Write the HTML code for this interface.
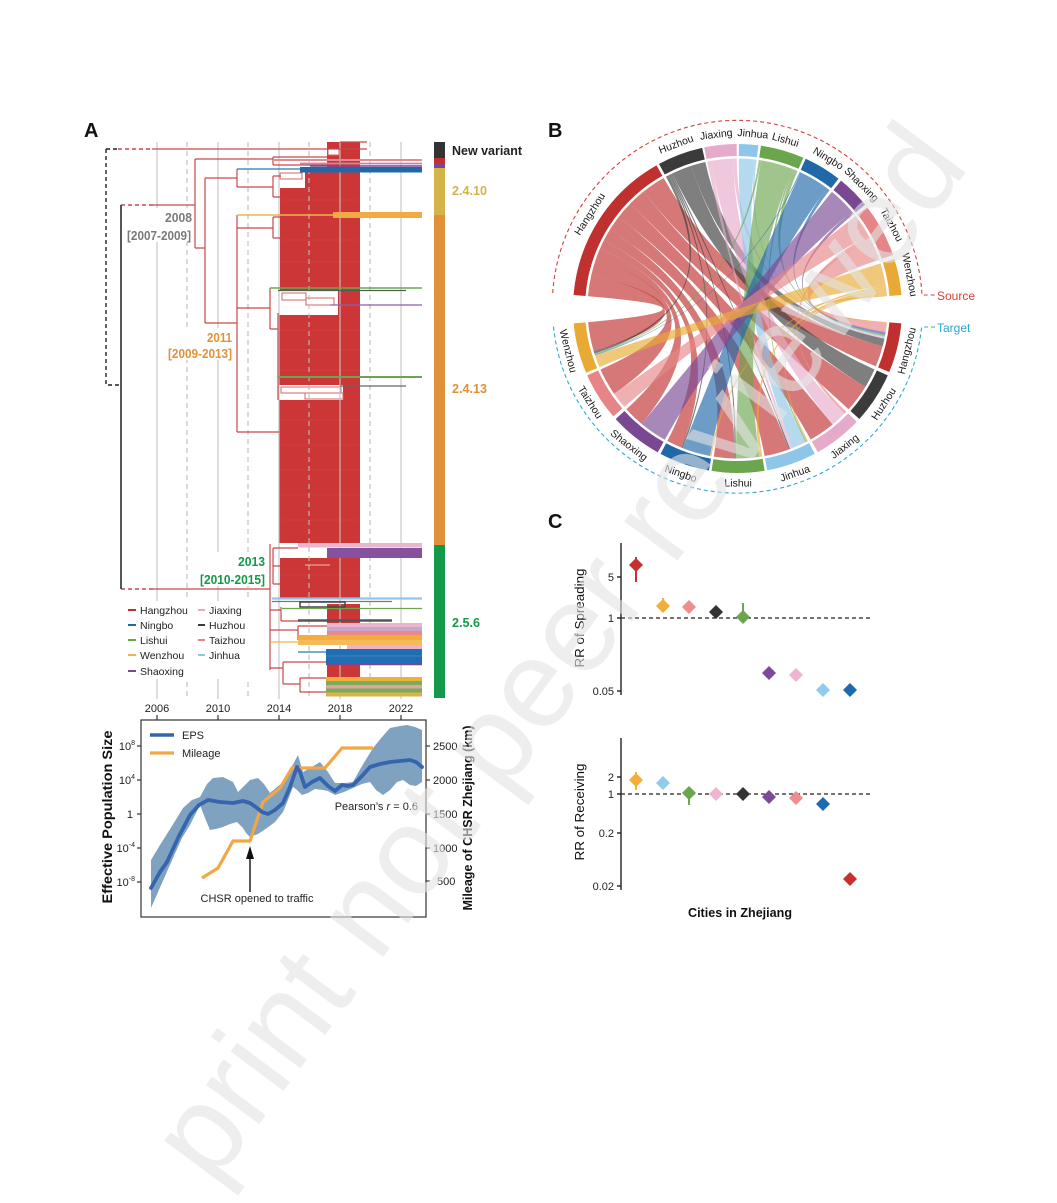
<!DOCTYPE html>
<html><head><meta charset="utf-8"><style>
html,body{margin:0;padding:0;background:#fff;overflow:hidden;width:1057px;height:1203px;}
#wrap{position:relative;width:1057px;height:1203px;overflow:hidden;}
svg{display:block;font-family:"Liberation Sans",Arial,sans-serif;}
</style></head><body><div id="wrap">
<svg id="root" xmlns="http://www.w3.org/2000/svg" width="1057" height="1203" viewBox="0 0 1057 1203" overflow="hidden">
<defs><clipPath id="frame"><rect x="0" y="0" width="1057" height="1203"/></clipPath></defs>
<rect x="0" y="0" width="1057" height="1203" fill="#fff"/>

<!-- ================= PANEL A: tree ================= -->
<text x="84" y="137" font-size="20" font-weight="bold" fill="#111">A</text>

<g fill="#CD3637">
<rect x="327" y="142" width="33" height="31"/>
<rect x="305" y="172" width="55" height="17"/>
<rect x="280" y="188" width="80" height="102"/>
<rect x="338" y="290" width="22" height="25"/>
<rect x="279" y="315" width="81" height="70"/>
<rect x="343" y="385" width="17" height="15"/>
<rect x="279" y="400" width="81" height="143"/>
<rect x="280" y="558" width="80" height="40"/>
<rect x="327" y="604" width="33" height="20"/>
<rect x="327" y="662" width="33" height="16"/>
</g>
<g stroke="#e06a6a" stroke-width="0.6" opacity="0.35">
<line x1="282" y1="200" x2="358" y2="200"/><line x1="282" y1="215" x2="358" y2="215"/><line x1="282" y1="240" x2="358" y2="240"/><line x1="282" y1="262" x2="358" y2="262"/><line x1="282" y1="330" x2="358" y2="330"/><line x1="282" y1="350" x2="358" y2="350"/><line x1="282" y1="370" x2="358" y2="370"/><line x1="282" y1="420" x2="358" y2="420"/><line x1="282" y1="445" x2="358" y2="445"/><line x1="282" y1="470" x2="358" y2="470"/><line x1="282" y1="495" x2="358" y2="495"/><line x1="282" y1="520" x2="358" y2="520"/><line x1="282" y1="575" x2="358" y2="575"/>
</g>
<g fill="#fff" stroke="#D56565" stroke-width="1">
<rect x="328" y="149" width="11" height="6"/>
<rect x="280" y="173" width="22" height="6"/>
<rect x="282" y="293" width="24" height="7"/>
<rect x="306" y="298" width="28" height="7"/>
<rect x="281" y="387" width="60" height="6"/>
<rect x="305" y="393" width="38" height="6"/>
</g>

<g stroke="#c4c4c4" stroke-width="1.3" opacity="0.85">
<line x1="157" y1="142" x2="157" y2="699"/>
<line x1="218" y1="142" x2="218" y2="699"/>
<line x1="279" y1="142" x2="279" y2="699"/>
<line x1="340" y1="142" x2="340" y2="699"/>
<line x1="401" y1="142" x2="401" y2="699"/>
</g>
<g stroke="#bdbdbd" stroke-width="1.3" stroke-dasharray="5,4" opacity="0.85">
<line x1="187" y1="142" x2="187" y2="699"/>
<line x1="248" y1="142" x2="248" y2="699"/>
<line x1="309" y1="142" x2="309" y2="699"/>
<line x1="370" y1="142" x2="370" y2="699"/>
</g>

<g fill="none" stroke-width="1.4">
<path d="M106,149 V385 H121" stroke="#222" stroke-dasharray="4,3"/>
<line x1="106" y1="149" x2="118" y2="149" stroke="#222" stroke-dasharray="4,3"/>
<line x1="118" y1="149" x2="152" y2="149" stroke="#C9474A" stroke-dasharray="4,3"/>
<line x1="121" y1="205" x2="153" y2="205" stroke="#C9474A" stroke-dasharray="4,3"/>
<line x1="121" y1="589" x2="153" y2="589" stroke="#C9474A" stroke-dasharray="4,3"/>
<line x1="121" y1="205" x2="121" y2="589" stroke="#444" stroke-width="1.8"/>
</g>

<g fill="none" stroke="#C9474A" stroke-width="1.2">
<line x1="152" y1="149" x2="367" y2="149"/>
<line x1="340" y1="142" x2="367" y2="142"/>
<line x1="153" y1="205" x2="195" y2="205"/>
<path d="M195,159 V248"/>
<path d="M195,159 H273 M273,157 V165 M273,157 H327 M273,165 H327"/>
<path d="M195,248 H205 M205,178 V323"/>
<path d="M205,178 H237 M237,169 V187 M237,187 H273 M273,176 V197 M273,176 H281 M273,197 H281"/>
<path d="M205,323 H237 M237,215 V432"/>
<path d="M237,228 H273 M273,217 V238 M273,217 H281 M273,238 H281"/>
<path d="M237,308 H270 M270,288 V329 M270,329 H278 M278,313 V400"/>
<path d="M237,432 H279"/>
<path d="M153,589 H270 M270,544 V670"/>
<path d="M273,548 V584 M273,566 H280 M273,548 H298 M273,584 H280"/>
<path d="M281,607 V621 M281,621 H300 M270,610 H281"/>
<path d="M270,630 H298 M298,626 V640 M298,626 H327 M298,640 H327"/>
<path d="M270,668 H283 M283,662 V684 M283,662 H327 M283,684 H300 M300,678 V692 M300,678 H327 M300,692 H327"/>
<line x1="305" y1="565" x2="330" y2="565" stroke="#f0a0a0"/>
</g>

<g stroke-linecap="butt">
<line x1="273" y1="160" x2="422" y2="160" stroke="#E68A8C" stroke-width="2"/>
<line x1="300" y1="163.5" x2="422" y2="163.5" stroke="#B28BB8" stroke-width="1.8"/>
<line x1="310" y1="166" x2="422" y2="166" stroke="#7A4793" stroke-width="1.6"/>
<line x1="237" y1="169" x2="300" y2="169" stroke="#2E75B6" stroke-width="1.3"/>
<rect x="300" y="167" width="122" height="5.5" fill="#1F69A8"/>
<line x1="237" y1="215" x2="333" y2="215" stroke="#F2B24F" stroke-width="1.6"/>
<rect x="333" y="212" width="89" height="6" fill="#F2AA45"/>
<line x1="270" y1="288" x2="422" y2="288" stroke="#6BA54E" stroke-width="1.6"/>
<line x1="278" y1="290.5" x2="406" y2="290.5" stroke="#4C5F4E" stroke-width="1.3"/>
<line x1="330" y1="305" x2="422" y2="305" stroke="#8B5FA5" stroke-width="1.3"/>
<line x1="278" y1="377" x2="422" y2="377" stroke="#6BA54E" stroke-width="2"/>
<line x1="340" y1="386" x2="406" y2="386" stroke="#666" stroke-width="1.3"/>
<rect x="298" y="543" width="124" height="4.5" fill="#E9B6D0"/>
<rect x="327" y="548" width="95" height="10" fill="#8652A0"/>
<line x1="272" y1="598.5" x2="422" y2="598.5" stroke="#8DC6E8" stroke-width="2.2"/>
<line x1="272" y1="601.5" x2="392" y2="601.5" stroke="#777" stroke-width="1.2"/>
<rect x="300" y="602" width="45" height="5" fill="none" stroke="#444" stroke-width="1.5"/>
<line x1="282" y1="608.5" x2="422" y2="608.5" stroke="#6BA54E" stroke-width="1.3"/>
<line x1="298" y1="620.5" x2="392" y2="620.5" stroke="#555" stroke-width="2.6"/>
<rect x="327" y="623" width="95" height="4" fill="#E9B6D0"/>
<rect x="327" y="627" width="95" height="4" fill="#C9A7C8"/>
<rect x="327" y="631" width="95" height="4" fill="#E68A8C"/>
<line x1="270" y1="642" x2="298" y2="642" stroke="#F2B24F" stroke-width="1.3"/>
<rect x="298" y="635" width="124" height="5" fill="#F6AC3C"/>
<rect x="298" y="640" width="124" height="5" fill="#F4BB5A"/>
<rect x="347" y="645" width="75" height="4" fill="#EDB1CB"/>
<line x1="298" y1="652" x2="326" y2="652" stroke="#2E75B6" stroke-width="1.3"/>
<rect x="326" y="649" width="96" height="15" fill="#1F6DB2"/>
<line x1="326" y1="656" x2="422" y2="656" stroke="#5A8CC8" stroke-width="0.8"/>
<line x1="326" y1="664.5" x2="422" y2="664.5" stroke="#7A4793" stroke-width="1.5"/>
<rect x="326" y="677" width="96" height="4" fill="#F2AE3A"/>
<rect x="326" y="681" width="96" height="4" fill="#78AE5A"/>
<rect x="326" y="685" width="96" height="3.5" fill="#E8A0A0"/>
<rect x="326" y="688.5" width="96" height="4" fill="#78AE5A"/>
<rect x="326" y="692.5" width="96" height="4" fill="#D9B24A"/>
</g>

<rect x="434" y="142" width="11" height="16" fill="#333"/>
<rect x="434" y="158" width="11" height="5" fill="#C0302F"/>
<rect x="434" y="163" width="11" height="5" fill="#7A4793"/>
<rect x="434" y="168" width="11" height="47" fill="#D4B44A"/>
<rect x="434" y="215" width="11" height="330" fill="#E0913A"/>
<rect x="434" y="545" width="11" height="153" fill="#14994A"/>
<text x="452" y="155" font-size="12.5" font-weight="bold" fill="#222" textLength="70" lengthAdjust="spacingAndGlyphs">New variant</text>
<text x="452" y="195" font-size="12.5" font-weight="bold" fill="#D4B24C" textLength="35" lengthAdjust="spacingAndGlyphs">2.4.10</text>
<text x="452" y="393" font-size="12.5" font-weight="bold" fill="#E0913A" textLength="35" lengthAdjust="spacingAndGlyphs">2.4.13</text>
<text x="452" y="627" font-size="12.5" font-weight="bold" fill="#14994A" textLength="28" lengthAdjust="spacingAndGlyphs">2.5.6</text>

<g fill="#fff">
<rect x="126" y="208" width="66" height="34"/>
<rect x="167" y="328" width="66" height="32"/>
<rect x="199" y="552" width="67" height="34"/>
</g>
<g font-size="12.5" font-weight="bold">
<text x="192" y="222" text-anchor="end" fill="#7a7a7a" textLength="27" lengthAdjust="spacingAndGlyphs">2008</text>
<text x="191" y="240" text-anchor="end" fill="#7a7a7a" textLength="64" lengthAdjust="spacingAndGlyphs">[2007-2009]</text>
<text x="232" y="342" text-anchor="end" fill="#E0913A" textLength="25" lengthAdjust="spacingAndGlyphs">2011</text>
<text x="232" y="358" text-anchor="end" fill="#E0913A" textLength="64" lengthAdjust="spacingAndGlyphs">[2009-2013]</text>
<text x="265" y="566" text-anchor="end" fill="#14994A" textLength="27" lengthAdjust="spacingAndGlyphs">2013</text>
<text x="265" y="584" text-anchor="end" fill="#14994A" textLength="65" lengthAdjust="spacingAndGlyphs">[2010-2015]</text>
</g>

<rect x="124" y="601" width="126" height="78" fill="#fff"/>
<g stroke-width="2">
<line x1="128" y1="610" x2="136" y2="610" stroke="#C0302F"/>
<line x1="128" y1="625" x2="136" y2="625" stroke="#1F69A8"/>
<line x1="128" y1="640" x2="136" y2="640" stroke="#6BA54E"/>
<line x1="128" y1="655" x2="136" y2="655" stroke="#F2B24F"/>
<line x1="128" y1="671" x2="136" y2="671" stroke="#7A4793"/>
<line x1="198" y1="610" x2="205" y2="610" stroke="#E6AACB"/>
<line x1="198" y1="625" x2="205" y2="625" stroke="#3B3B3B"/>
<line x1="198" y1="640" x2="205" y2="640" stroke="#E68587"/>
<line x1="198" y1="655" x2="205" y2="655" stroke="#8DC6E8"/>
</g>
<g font-size="10.5" fill="#222">
<text x="140" y="614">Hangzhou</text>
<text x="140" y="629">Ningbo</text>
<text x="140" y="644">Lishui</text>
<text x="140" y="659">Wenzhou</text>
<text x="140" y="675">Shaoxing</text>
<text x="209" y="614">Jiaxing</text>
<text x="209" y="629">Huzhou</text>
<text x="209" y="644">Taizhou</text>
<text x="209" y="659">Jinhua</text>
</g>

<g font-size="11" fill="#222" text-anchor="middle">
<text x="157" y="712">2006</text>
<text x="218" y="712">2010</text>
<text x="279" y="712">2014</text>
<text x="340" y="712">2018</text>
<text x="401" y="712">2022</text>
</g>

<!-- ================= EPS panel ================= -->
<g stroke="#333" stroke-width="1.2">
<line x1="157" y1="715" x2="157" y2="720"/>
<line x1="218" y1="715" x2="218" y2="720"/>
<line x1="279" y1="715" x2="279" y2="720"/>
<line x1="340" y1="715" x2="340" y2="720"/>
<line x1="401" y1="715" x2="401" y2="720"/>
<line x1="137" y1="746" x2="141" y2="746"/>
<line x1="137" y1="780" x2="141" y2="780"/>
<line x1="137" y1="814" x2="141" y2="814"/>
<line x1="137" y1="848" x2="141" y2="848"/>
<line x1="137" y1="882" x2="141" y2="882"/>
<line x1="426" y1="746" x2="430" y2="746"/>
<line x1="426" y1="780" x2="430" y2="780"/>
<line x1="426" y1="814" x2="430" y2="814"/>
<line x1="426" y1="848" x2="430" y2="848"/>
<line x1="426" y1="881" x2="430" y2="881"/>
</g>
<path fill="#7FA2C1" d="M151,860 L160,845 172,826 183,808 192,800 200,797 207,784 213,778 223,777 233,782 238,792 244,786 250,780 258,778 264,784 270,793 277,787 283,782 290,770 298,755 303,772 310,768 320,762 328,772 335,783 345,783 353,782 362,766 373,748 382,737 390,728 400,726 407,725 415,727 422,730 L422,782 416,786 410,785 403,780 397,782 390,790 383,795 376,790 370,782 362,784 353,788 344,792 335,795 328,791 323,790 315,789 308,793 302,795 297,790 293,787 288,800 283,812 275,822 267,828 258,834 250,837 246,833 243,828 237,822 230,824 223,827 216,829 210,830 205,818 200,805 195,815 190,825 182,838 173,858 162,883 151,908 Z"/>
<polyline fill="none" stroke="#F2A648" stroke-width="3.2" stroke-linejoin="round" points="202,878 218,868 233,841 250,841 263,802 280,788 292,768 325,768 342,748 373,748"/>
<polyline fill="none" stroke="#3465AE" stroke-width="3.8" stroke-linejoin="round" stroke-linecap="round" points="151,888 160,872 167,862 178,838 190,815 199,805 208,800 220,802 233,803 243,801 250,803 257,808 262,812 268,814 275,810 283,803 290,787 297,767 300,772 305,787 312,782 320,778 328,786 335,791 342,785 348,786 353,785 362,776 370,767 380,764 390,762 400,761 410,760 416,762 422,767"/>
<rect x="141" y="720" width="285" height="197" fill="none" stroke="#333" stroke-width="1.2"/>
<line x1="150" y1="735" x2="174" y2="735" stroke="#3465AE" stroke-width="3.5"/>
<line x1="150" y1="753" x2="174" y2="753" stroke="#F2A648" stroke-width="3.2"/>
<text x="182" y="739" font-size="11" fill="#222">EPS</text>
<text x="182" y="757" font-size="11" fill="#222">Mileage</text>
<text x="418" y="810" font-size="11" fill="#222" text-anchor="end">Pearson’s <tspan font-style="italic">r</tspan> = 0.6</text>
<line x1="250" y1="892" x2="250" y2="856" stroke="#111" stroke-width="1.4"/>
<polygon points="250,846 246,859 254,859" fill="#111"/>
<text x="257" y="902" font-size="11" fill="#222" text-anchor="middle" textLength="113" lengthAdjust="spacingAndGlyphs">CHSR opened to traffic</text>
<g font-size="11" fill="#222" text-anchor="end">
<text x="135" y="750">10<tspan font-size="7" dy="-5">8</tspan></text>
<text x="135" y="784">10<tspan font-size="7" dy="-5">4</tspan></text>
<text x="133" y="818">1</text>
<text x="135" y="852">10<tspan font-size="7" dy="-5">-4</tspan></text>
<text x="135" y="886">10<tspan font-size="7" dy="-5">-8</tspan></text>
</g>
<g font-size="11" fill="#222">
<text x="433" y="750">2500</text>
<text x="433" y="784">2000</text>
<text x="433" y="818">1500</text>
<text x="433" y="852">1000</text>
<text x="437" y="885">500</text>
</g>
<text transform="translate(112,817) rotate(-90)" font-size="13.5" font-weight="bold" fill="#111" text-anchor="middle" textLength="173" lengthAdjust="spacingAndGlyphs">Effective Population Size</text>
<text transform="translate(472,818) rotate(-90)" font-size="12.5" font-weight="bold" fill="#111" text-anchor="middle" textLength="185" lengthAdjust="spacingAndGlyphs">Mileage of CHSR Zhejiang (km)</text>

<!-- ================= PANEL B: chord ================= -->
<text x="548" y="137" font-size="20" font-weight="bold" fill="#111">B</text>
<g id="chords"></g>
<g id="arcs"></g>
<path d="M552.7,293 A185,185 0 0 1 922,295 L935,295" fill="none" stroke="#D6403B" stroke-width="1.1" stroke-dasharray="4,3"/>
<path d="M935,327 L921.6,327 A185,185 0 0 1 553.3,324.6" fill="none" stroke="#2BA8D4" stroke-width="1.1" stroke-dasharray="4,3"/>
<text x="937" y="300" font-size="12" fill="#D6403B">Source</text>
<text x="937" y="332" font-size="12" fill="#2BA8D4">Target</text>
<g font-size="10.5" fill="#1a1a1a" text-anchor="middle" dominant-baseline="central">
<text transform="translate(590.1,214.2) rotate(-57.4)">Hangzhou</text>
<text transform="translate(676.2,144.6) rotate(-20.5)">Huzhou</text>
<text transform="translate(716.2,134.8) rotate(-7)">Jiaxing</text>
<text transform="translate(752.8,134.2) rotate(5)">Jinhua</text>
<text transform="translate(785.4,140.2) rotate(15.9)">Lishui</text>
<text transform="translate(828.1,158.8) rotate(31.2)">Ningbo</text>
<text transform="translate(861.2,184.8) rotate(45)">Shaoxing</text>
<text transform="translate(891.3,225) rotate(61.5)">Taizhou</text>
<text transform="translate(909.2,274.8) rotate(78.9)">Wenzhou</text>
<text transform="translate(907.3,350.8) rotate(-76)">Hangzhou</text>
<text transform="translate(884.1,404.1) rotate(-56.9)">Huzhou</text>
<text transform="translate(844.9,446.7) rotate(-37.85)">Jiaxing</text>
<text transform="translate(795.1,473.8) rotate(-19.2)">Jinhua</text>
<text transform="translate(738.1,483.5) rotate(-0.2)">Lishui</text>
<text transform="translate(680.7,474) rotate(18.95)">Ningbo</text>
<text transform="translate(628.8,445.6) rotate(38.4)">Shaoxing</text>
<text transform="translate(589.9,402.5) rotate(57.5)">Taizhou</text>
<text transform="translate(567.8,351.1) rotate(75.9)">Wenzhou</text>
</g>

<!-- ================= PANEL C ================= -->
<text x="548" y="528" font-size="20" font-weight="bold" fill="#111">C</text>
<g stroke="#222" stroke-width="1.4">
<line x1="621" y1="543" x2="621" y2="695"/>
<line x1="621" y1="738" x2="621" y2="890"/>
<line x1="617" y1="577" x2="621" y2="577"/>
<line x1="617" y1="618" x2="621" y2="618"/>
<line x1="617" y1="691" x2="621" y2="691"/>
<line x1="617" y1="777" x2="621" y2="777"/>
<line x1="617" y1="794" x2="621" y2="794"/>
<line x1="617" y1="833" x2="621" y2="833"/>
<line x1="617" y1="886" x2="621" y2="886"/>
</g>
<g stroke="#222" stroke-width="1.3" stroke-dasharray="4,3">
<line x1="621" y1="618" x2="870" y2="618"/>
<line x1="621" y1="794" x2="870" y2="794"/>
</g>
<g font-size="11" fill="#222" text-anchor="end">
<text x="614" y="581">5</text>
<text x="614" y="622">1</text>
<text x="614" y="695">0.05</text>
<text x="614" y="781">2</text>
<text x="614" y="798">1</text>
<text x="614" y="837">0.2</text>
<text x="614" y="890">0.02</text>
</g>
<text transform="translate(584,618) rotate(-90)" font-size="13" fill="#111" text-anchor="middle" textLength="99" lengthAdjust="spacingAndGlyphs">RR of Spreading</text>
<text transform="translate(584,812) rotate(-90)" font-size="13" fill="#111" text-anchor="middle" textLength="97" lengthAdjust="spacingAndGlyphs">RR of Receiving</text>
<text x="740" y="917" font-size="12.5" font-weight="bold" fill="#111" text-anchor="middle" textLength="104" lengthAdjust="spacingAndGlyphs">Cities in Zhejiang</text>
<g stroke-width="2">
<line x1="636" y1="557" x2="636" y2="582" stroke="#C8302F"/>
<line x1="663" y1="598" x2="663" y2="607" stroke="#F2AE3A"/>
<line x1="743" y1="603" x2="743" y2="622" stroke="#6BA54E"/>
<line x1="636" y1="772" x2="636" y2="790" stroke="#F2AE3A"/>
<line x1="689" y1="793" x2="689" y2="805" stroke="#6BA54E"/>
</g>
<polygon points="636,558 643,565 636,572 629,565" fill="#C8302F"/>
<polygon points="663,599 670,606 663,613 656,606" fill="#F2AE3A"/>
<polygon points="689,600 696,607 689,614 682,607" fill="#EE8C8E"/>
<polygon points="716,605 723,612 716,619 709,612" fill="#333"/>
<polygon points="743,610 750,617 743,624 736,617" fill="#6BA54E"/>
<polygon points="769,666 776,673 769,680 762,673" fill="#7B4A99"/>
<polygon points="796,668 803,675 796,682 789,675" fill="#EEB5D2"/>
<polygon points="823,683 830,690 823,697 816,690" fill="#8ECBEC"/>
<polygon points="850,683 857,690 850,697 843,690" fill="#1C6BB0"/>
<polygon points="636,773 643,780 636,787 629,780" fill="#F2AE3A"/>
<polygon points="663,776 670,783 663,790 656,783" fill="#8ECBEC"/>
<polygon points="689,786 696,793 689,800 682,793" fill="#6BA54E"/>
<polygon points="716,787 723,794 716,801 709,794" fill="#EEB5D2"/>
<polygon points="743,787 750,794 743,801 736,794" fill="#333"/>
<polygon points="769,790 776,797 769,804 762,797" fill="#7B4A99"/>
<polygon points="796,791 803,798 796,805 789,798" fill="#EE8C8E"/>
<polygon points="823,797 830,804 823,811 816,804" fill="#1C6BB0"/>
<polygon points="850,872 857,879 850,886 843,879" fill="#C8302F"/>

<!-- watermark -->
<g clip-path="url(#frame)">
<text transform="translate(970.5,166) rotate(-53.4)" text-anchor="end" font-size="125" fill="#e4e4e4" opacity="0.6">print not peer reviewed</text>
</g>
</svg>
</div>
<script>
(function(){
var NS='http://www.w3.org/2000/svg';
var gc=document.getElementById('chords'), ga=document.getElementById('arcs');
var cx=737.5, cy=308.5, R=150;
function P(r,a){var t=a*Math.PI/180;return (cx+r*Math.cos(t)).toFixed(2)+','+(cy+r*Math.sin(t)).toFixed(2);}
var col=['#C0302F','#3B3B3B','#E6AACB','#8DC6E8','#6BA54E','#1F69A8','#7A4793','#E68587','#E8AA35'];
var S=[[184.7,240.5],[241.5,257.6],[258.3,269.7],[270.5,277.3],[278.2,293.6],[294.5,307.9],[309,320.9],[322,341],[342.5,355.3]];
var T=[[5.2,22.7],[24,42.2],[43.5,60.8],[62,79.6],[80.5,99.1],[100,117.9],[119,137.8],[139,156],[157,174.8]];
var M=[
[14,10,10,9,7,5,6,10,12],
[5,7,0,0.5,0.5,0.5,0,0,1],
[1,0,6,1,0,0,0,0,0],
[0.5,0,0,5,0,0,0,0,0],
[1,0,0,0.5,8,0,0,0,0.5],
[1,0,0,0,0,9,0,0,0.3],
[1,0,0,0,0,0,8,0,0],
[6,0,1,0,0,0,0,6,0],
[0.5,0,0,0.5,1,0.5,0,0,5]];
var rs=[],cs=[],s,t;
for(s=0;s<9;s++){rs[s]=0;for(t=0;t<9;t++)rs[s]+=M[s][t];}
for(t=0;t<9;t++){cs[t]=0;for(s=0;s<9;s++)cs[t]+=M[s][t];}
var sa={},ta={};
for(s=0;s<9;s++){var a=S[s][0],sp=S[s][1]-S[s][0];for(t=8;t>=0;t--){var w=M[s][t]/rs[s]*sp;sa[s+'_'+t]=[a,a+w];a+=w;}}
for(t=0;t<9;t++){var b=T[t][0],sp2=T[t][1]-T[t][0];for(s=8;s>=0;s--){var w2=M[s][t]/cs[t]*sp2;ta[s+'_'+t]=[b,b+w2];b+=w2;}}
for(s=0;s<9;s++){for(t=0;t<9;t++){if(M[s][t]<=0)continue;var k=s+'_'+t,A=sa[k],B=ta[k];
var d='M'+P(R,A[0])+' A'+R+','+R+' 0 0 1 '+P(R,A[1])+' Q'+cx+','+cy+' '+P(R,B[0])+' A'+R+','+R+' 0 0 1 '+P(R,B[1])+' Q'+cx+','+cy+' '+P(R,A[0])+'Z';
var p=document.createElementNS(NS,'path');p.setAttribute('d',d);p.setAttribute('fill',col[s]);p.setAttribute('fill-opacity','0.65');
gc.appendChild(p);}}
function arc(a1,a2,c){var r=158.5;var p=document.createElementNS(NS,'path');p.setAttribute('d','M'+P(r,a1)+' A'+r+','+r+' 0 0 1 '+P(r,a2));p.setAttribute('fill','none');p.setAttribute('stroke',c);p.setAttribute('stroke-width','12');ga.appendChild(p);}
for(s=0;s<9;s++)arc(S[s][0],S[s][1],col[s]);
for(t=0;t<9;t++)arc(T[t][0],T[t][1],col[t]);
})();
</script>
</body></html>
